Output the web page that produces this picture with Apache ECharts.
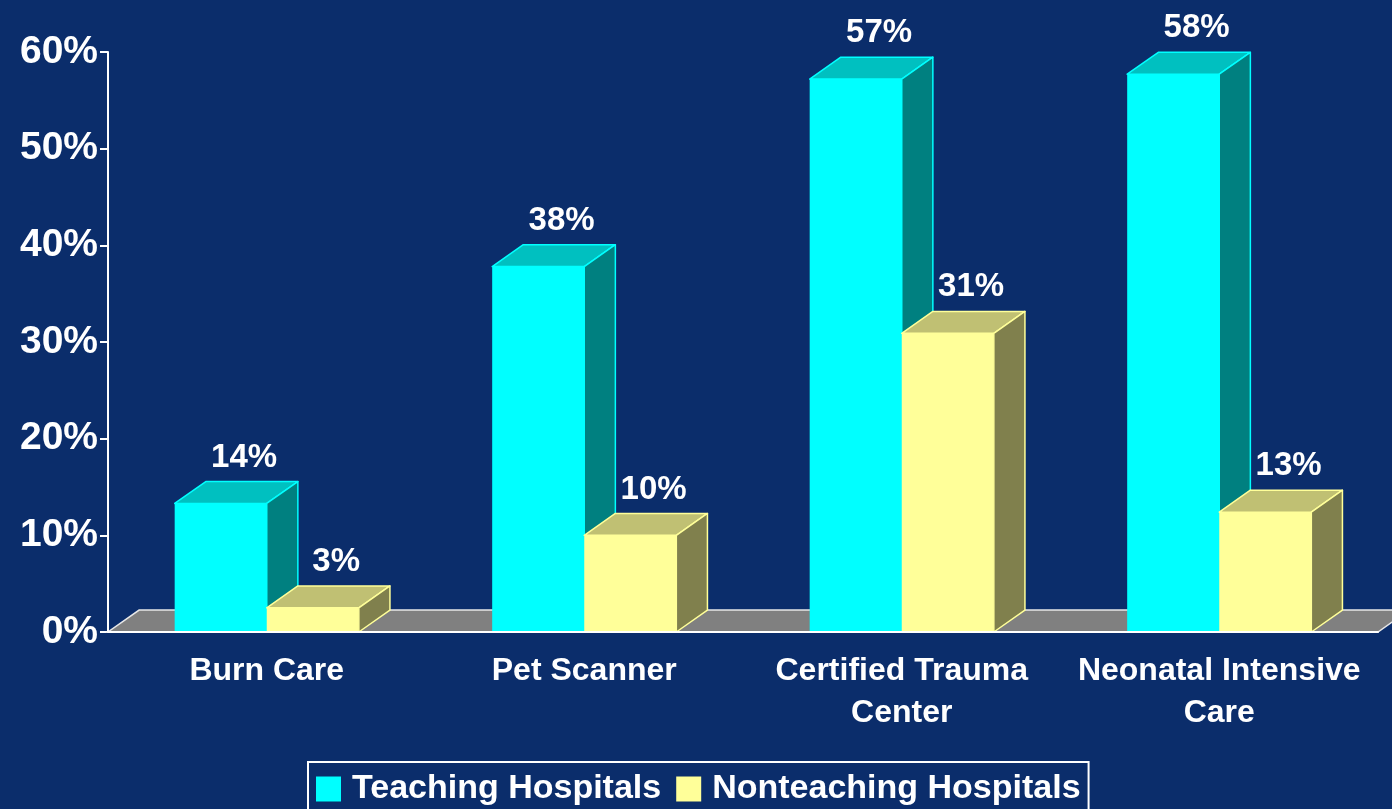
<html>
<head>
    <meta charset="utf-8">
    <title>Hospital services</title>
    <script src="https://cdn.jsdelivr.net/npm/echarts@6/dist/echarts.min.js"></script>
    <style>
        body { margin: 0; background: #0B2D6B; }
    </style>
</head>
<body>
    <div id="main" style="width: 1392px;height:809px;"></div>
    <script type="text/javascript">
        // data (bar heights, labels as printed)
        var categories = ['Burn Care', 'Pet Scanner', 'Certified Trauma\nCenter', 'Neonatal Intensive\nCare'];
        var teaching = [13.3, 37.8, 57.2, 57.7];
        var teachingLabels = ['14%', '38%', '57%', '58%'];
        var nonteaching = [2.5, 10, 30.9, 12.4];
        var nonteachingLabels = ['3%', '10%', '31%', '13%'];
        var yTicks = { min: 0, max: 60, step: 10 };

        var FONT = "'Liberation Sans', Arial, sans-serif";

        var myChart = echarts.init(document.getElementById('main'));

        // pseudo 3d box, off = -1 left of the category centre, 0 right of it
        function box(off, labels, front, top, side) {
            return function (params, api) {
                var i = api.value(0), v = api.value(1);
                var base = api.coord([i, 0]);
                var head = api.coord([i, v]);
                var band = api.size([1, 0])[0];
                var w = band * 0.29, dx = band * 0.098, dy = band * 0.069;
                var x0 = base[0] + off * w, yt = head[1], yb = base[1];
                var edge = { stroke: front, lineWidth: 1.5, lineJoin: 'round' };
                return {
                    type: 'group',
                    children: [
                        { type: 'rect', shape: { x: x0, y: yt, width: w, height: yb - yt },
                          style: { fill: front } },
                        { type: 'polygon', shape: { points: [[x0, yt], [x0 + w, yt], [x0 + w + dx, yt - dy], [x0 + dx, yt - dy]] },
                          style: Object.assign({ fill: top }, edge) },
                        { type: 'polygon', shape: { points: [[x0 + w, yt], [x0 + w + dx, yt - dy], [x0 + w + dx, yb - dy], [x0 + w, yb]] },
                          style: Object.assign({ fill: side }, edge) },
                        { type: 'text', x: x0 + w / 2 + dx * 0.75, y: yt - dy - 24,
                          style: { text: labels[i], fill: '#fff', font: 'bold 33px ' + FONT,
                                   align: 'center', verticalAlign: 'middle' } }
                    ]
                };
            };
        }

        function floor(params, api) {
            var cs = params.coordSys;
            var band = api.size([1, 0])[0];
            var dx = band * 0.098, dy = band * 0.069;
            var L = cs.x, R = cs.x + cs.width, y0 = api.coord([0, 0])[1];
            return {
                type: 'polygon',
                shape: { points: [[L, y0], [R, y0], [R + dx, y0 - dy], [L + dx, y0 - dy]] },
                style: { fill: '#808080', stroke: '#e8e8e8', lineWidth: 1.5 }
            };
        }

        var option = {
            backgroundColor: '#0B2D6B',
            animation: false,
            grid: { left: 108, right: 14, top: 52, bottom: 177 },
            legend: {
                data: ['Teaching Hospitals', 'Nonteaching Hospitals'],
                left: 308, top: 762,
                icon: 'rect', itemWidth: 25, itemHeight: 25, itemGap: 15,
                padding: [10, 8, 20, 8],
                borderColor: '#fff', borderWidth: 2,
                textStyle: { color: '#fff', fontSize: 34, fontWeight: 'bold', fontFamily: FONT,
                             padding: [0, 0, 0, 6] }
            },
            xAxis: {
                type: 'category',
                data: categories,
                z: 5,
                axisLine: { lineStyle: { color: '#fff', width: 2 } },
                axisTick: { length: 10, lineStyle: { color: '#fff', width: 2 } },
                axisLabel: { color: '#fff', fontSize: 32, fontWeight: 'bold', fontFamily: FONT,
                             lineHeight: 42, margin: 18, interval: 0 }
            },
            yAxis: {
                type: 'value',
                min: yTicks.min, max: yTicks.max, interval: yTicks.step,
                axisLine: { show: true, lineStyle: { color: '#fff', width: 2 } },
                axisTick: { show: true, length: 8, lineStyle: { color: '#fff', width: 2 } },
                splitLine: { show: false },
                axisLabel: { color: '#fff', fontSize: 39, fontWeight: 'bold', fontFamily: FONT,
                             margin: 10, formatter: '{value}%' }
            },
            series: [
                { type: 'custom', name: 'floor', z: 1, silent: true, renderItem: floor, data: [[0, 0]] },
                { type: 'custom', name: 'Teaching Hospitals', z: 2,
                  itemStyle: { color: '#00FFFF' },
                  renderItem: box(-1, teachingLabels, '#00FFFF', '#00C0C0', '#008080'),
                  data: teaching.map(function (v, i) { return [i, v]; }) },
                { type: 'custom', name: 'Nonteaching Hospitals', z: 3,
                  itemStyle: { color: '#FFFF99' },
                  renderItem: box(0, nonteachingLabels, '#FFFF99', '#C0C073', '#80804D'),
                  data: nonteaching.map(function (v, i) { return [i, v]; }) }
            ]
        };

        myChart.setOption(option);
    </script>
</body>
</html>
